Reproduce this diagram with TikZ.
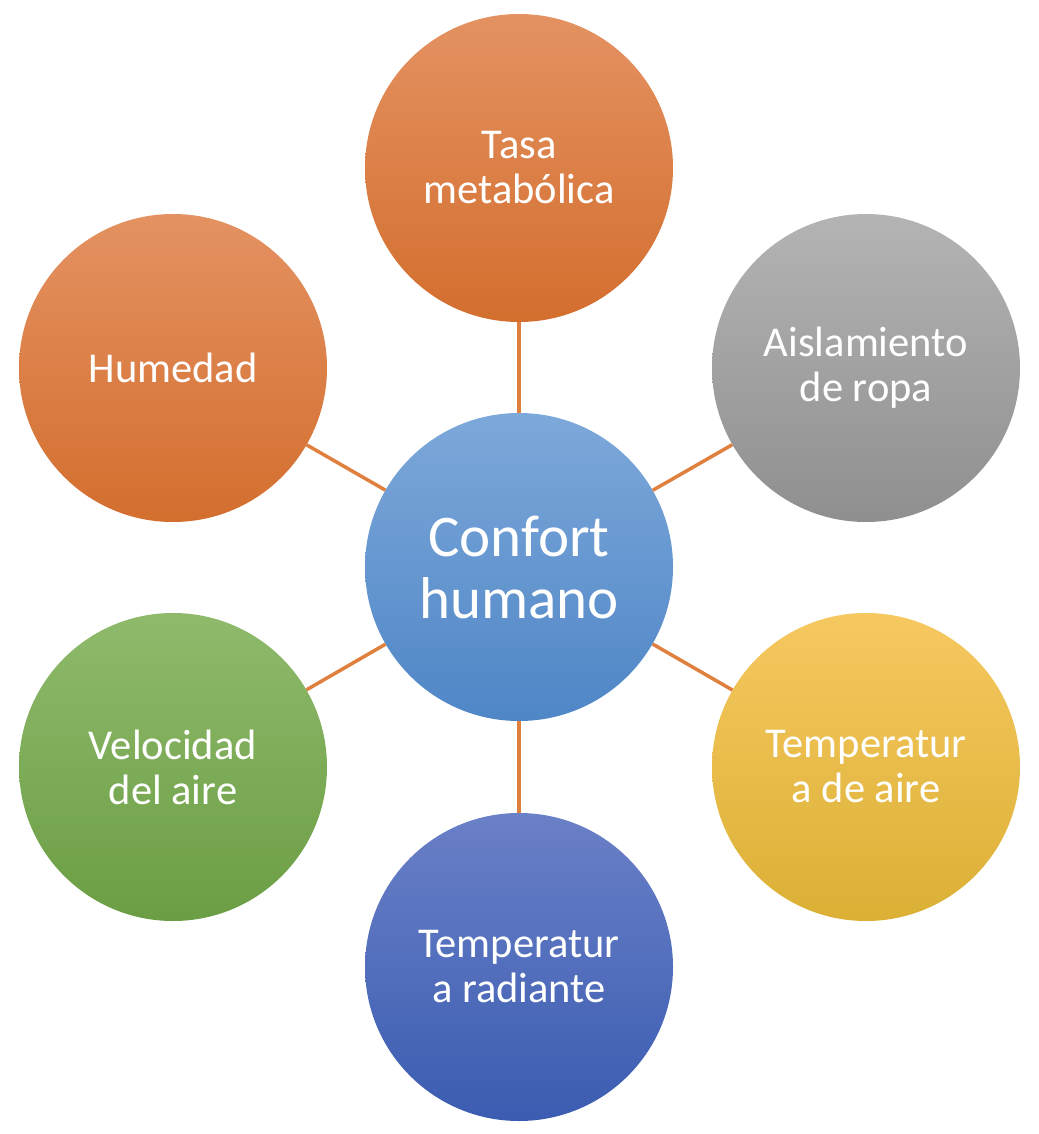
\documentclass[tikz,border=0pt]{standalone}
\usepackage{fontspec}
\setmainfont{Carlito}
\definecolor{linec}{RGB}{224,128,63}
\tikzset{
  bub/.style={circle, minimum size=308pt, inner sep=0pt, align=center, text=white,
    font=\fontsize{42.5}{45}\selectfont},
  orangeb/.style={bub, top color={rgb,255:red,228;green,146;blue,98}, bottom color={rgb,255:red,211;green,110;blue,46}},
  greyb/.style={bub, top color={rgb,255:red,180;green,180;blue,180}, bottom color={rgb,255:red,143;green,143;blue,143}},
  yellowb/.style={bub, top color={rgb,255:red,246;green,200;blue,96}, bottom color={rgb,255:red,219;green,176;blue,53}},
  darkblueb/.style={bub, top color={rgb,255:red,106;green,128;blue,199}, bottom color={rgb,255:red,59;green,92;blue,177}},
  greenb/.style={bub, top color={rgb,255:red,143;green,186;blue,108}, bottom color={rgb,255:red,107;green,158;blue,68}},
  centerb/.style={bub, top color={rgb,255:red,125;green,168;blue,218}, bottom color={rgb,255:red,79;green,134;blue,198},
    font=\fontsize{59}{62}\selectfont},
  conn/.style={draw=linec, line width=3.5pt}
}
\begin{document}
\begin{tikzpicture}[x=1pt,y=-1pt]
\useasboundingbox (0,0) rectangle (1038,1134);
\node[centerb] (c) at (519,567) {Confort\\humano};
\node[orangeb] (t) at (519,168) {Tasa\\metabólica};
\node[orangeb] (h) at (173,368) {Humedad};
\node[greyb] (a) at (866,368) {Aislamiento\\de ropa};
\node[greenb] (v) at (173,767) {Velocidad\\del aire};
\node[yellowb] (ta) at (866,767) {Temperatur\\a de aire};
\node[darkblueb] (tr) at (519,967) {Temperatur\\a radiante};
\foreach \n in {t,h,a,v,ta,tr} \draw[conn] (c) -- (\n);
\end{tikzpicture}
\end{document}
